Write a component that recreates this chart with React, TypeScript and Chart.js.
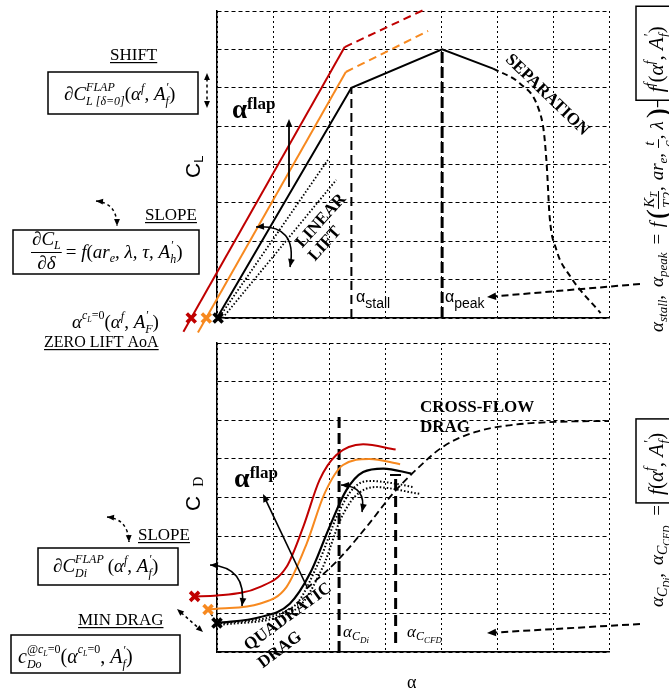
import React, { useEffect, useRef } from "react";
import { Chart, registerables } from "chart.js";
Chart.register(...registerables);

const W = 669;
const H = 692;

// ---- grid (α in grid units 0..7, coefficient in grid units 0..8)
const alphaRange = [0, 7];
const coefRange = [0, 8];

// ---- TOP PANEL: C_L vs α
const clRedLinear = [{ x: -0.6, y: -0.36 }, { x: 2.28, y: 7.06 }];
const clRedExtension = [{ x: 2.28, y: 7.06 }, { x: 3.68, y: 8.02 }];
const clOrangeLinear = [{ x: -0.34, y: -0.38 }, { x: 2.3, y: 6.41 }];
const clOrangeExtension = [{ x: 2.3, y: 6.41 }, { x: 3.77, y: 7.48 }];
const clBase = [{ x: 0, y: 0 }, { x: 2.4, y: 6.0 }, { x: 4.02, y: 7.0 }, { x: 4.93, y: 6.5 }];
const clSeparation = [
  { x: 4.93, y: 6.5 }, { x: 5.41, y: 6.11 }, { x: 5.73, y: 5.5 }, { x: 5.84, y: 4.81 },
  { x: 5.89, y: 3.94 }, { x: 5.94, y: 2.64 }, { x: 6.06, y: 1.78 }, { x: 6.31, y: 1.08 }, { x: 6.85, y: 0.13 },
];
const clDottedA = [{ x: 0.05, y: 0.04 }, { x: 1.98, y: 4.12 }];
const clDottedB = [{ x: 0.1, y: 0.0 }, { x: 2.13, y: 3.6 }];
const clStall = [{ x: 2.4, y: 0 }, { x: 2.4, y: 6.0 }];
const clPeak = [{ x: 4.02, y: 0 }, { x: 4.02, y: 7.0 }];
const clZeroRed = [{ x: -0.46, y: 0 }];
const clZeroOrange = [{ x: -0.19, y: 0 }];
const clZeroBlack = [{ x: 0.02, y: 0 }];

// ---- BOTTOM PANEL: C_D vs α
const cdRed = [
  { x: -0.4, y: 1.44 }, { x: 0, y: 1.46 }, { x: 0.76, y: 1.68 }, { x: 1.24, y: 2.2 }, { x: 1.54, y: 3.24 },
  { x: 1.83, y: 4.45 }, { x: 2.13, y: 5.1 }, { x: 2.61, y: 5.38 }, { x: 3.19, y: 5.24 },
];
const cdOrange = [
  { x: -0.16, y: 1.1 }, { x: 0, y: 1.12 }, { x: 0.76, y: 1.25 }, { x: 1.24, y: 1.68 }, { x: 1.6, y: 2.8 },
  { x: 1.92, y: 4.1 }, { x: 2.25, y: 4.84 }, { x: 2.72, y: 5.0 }, { x: 3.27, y: 4.86 },
];
const cdBlack = [
  { x: 0, y: 0.75 }, { x: 0.76, y: 0.9 }, { x: 1.3, y: 1.25 }, { x: 1.66, y: 2.03 }, { x: 2.01, y: 3.24 },
  { x: 2.31, y: 4.19 }, { x: 2.61, y: 4.66 }, { x: 2.97, y: 4.75 }, { x: 3.47, y: 4.62 },
];
const cdDottedA = [
  { x: 0, y: 0.73 }, { x: 1.36, y: 1.17 }, { x: 1.83, y: 2.37 }, { x: 2.16, y: 3.58 }, { x: 2.43, y: 4.23 },
  { x: 2.72, y: 4.43 }, { x: 3.18, y: 4.36 }, { x: 3.5, y: 4.27 },
];
const cdDottedB = [
  { x: 0.05, y: 0.7 }, { x: 1.4, y: 1.1 }, { x: 1.89, y: 2.2 }, { x: 2.2, y: 3.41 }, { x: 2.46, y: 4.02 },
  { x: 2.82, y: 4.27 }, { x: 3.63, y: 4.09 },
];
const cdCrossFlow = [
  { x: 1.6, y: 1.64 }, { x: 2.16, y: 2.38 }, { x: 2.67, y: 3.24 }, { x: 3.14, y: 4.1 }, { x: 3.55, y: 4.71 },
  { x: 4.03, y: 5.31 }, { x: 4.62, y: 5.7 }, { x: 5.22, y: 5.87 }, { x: 6.12, y: 5.96 }, { x: 7.0, y: 5.98 },
];
const cdAlphaCDi = [{ x: 2.18, y: 0 }, { x: 2.18, y: 6.13 }];
const cdAlphaCCFD = [{ x: 3.19, y: 0.23 }, { x: 3.19, y: 4.58 }];
const cdMinLink = [{ x: -0.4, y: 1.44 }, { x: -0.16, y: 1.1 }, { x: 0, y: 0.75 }];
const cdMinRed = [{ x: -0.4, y: 1.44 }];
const cdMinOrange = [{ x: -0.16, y: 1.1 }];
const cdMinBlack = [{ x: 0.0, y: 0.75 }];

const RED = "#c00000";
const ORANGE = "#f7891f";
const BLACK = "#000000";

const SERIF = '"Liberation Serif", "DejaVu Serif", serif';
const SANS = '"Liberation Sans", "DejaVu Sans", sans-serif';
const fR = (s: number) => `${s}px ${SERIF}`;
const fI = (s: number) => `italic ${s}px ${SERIF}`;
const fB = (s: number) => `bold ${s}px ${SERIF}`;
const fS = (s: number) => `${s}px ${SANS}`;

type P = any;

function rich(ctx: CanvasRenderingContext2D, x: number, y: number, ps: P[], draw = true): number {
  let cx = x;
  for (const p of ps) {
    if (p.gap !== undefined) {
      cx += p.gap;
    } else if (p.st) {
      let w = 0;
      for (const g of p.st) w = Math.max(w, rich(ctx, cx, y, g, draw));
      cx += w;
    } else if (p.frac) {
      const wn = rich(ctx, 0, 0, p.frac[0], false);
      const wd = rich(ctx, 0, 0, p.frac[1], false);
      const w = Math.max(wn, wd) + 2;
      if (draw) {
        rich(ctx, cx + (w - wn) / 2, y - p.n, p.frac[0]);
        rich(ctx, cx + (w - wd) / 2, y + p.d, p.frac[1]);
        ctx.fillRect(cx, y - p.l, w, 1);
      }
      cx += w;
    } else {
      ctx.font = p.f;
      if (draw) ctx.fillText(p.t, cx + (p.dx || 0), y + (p.dy || 0));
      cx += ctx.measureText(p.t).width + (p.dx || 0);
    }
  }
  return cx - x;
}

function underlined(ctx: CanvasRenderingContext2D, text: string, x: number, y: number, font: string) {
  ctx.font = font;
  ctx.fillText(text, x, y);
  const w = ctx.measureText(text).width;
  ctx.fillRect(x, y + 2, w, 1.2);
}

function head(ctx: CanvasRenderingContext2D, x: number, y: number, ang: number, size = 8) {
  ctx.save();
  ctx.translate(x, y);
  ctx.rotate(ang);
  ctx.setLineDash([]);
  ctx.beginPath();
  ctx.moveTo(0, 0);
  ctx.lineTo(-size, -size * 0.42);
  ctx.lineTo(-size, size * 0.42);
  ctx.closePath();
  ctx.fill();
  ctx.restore();
}

function arrow(ctx: CanvasRenderingContext2D, x0: number, y0: number, x1: number, y1: number, o: any = {}) {
  const size = o.size || 8;
  ctx.save();
  ctx.setLineDash(o.dash || []);
  ctx.lineWidth = o.width || 1.5;
  const a = Math.atan2(y1 - y0, x1 - x0);
  ctx.beginPath();
  ctx.moveTo(x0 + (o.both ? Math.cos(a) * size * 0.8 : 0), y0 + (o.both ? Math.sin(a) * size * 0.8 : 0));
  ctx.lineTo(x1 - Math.cos(a) * size * 0.8, y1 - Math.sin(a) * size * 0.8);
  ctx.stroke();
  head(ctx, x1, y1, a, size);
  if (o.both) head(ctx, x0, y0, a + Math.PI, size);
  ctx.restore();
}

function curveArrow(ctx: CanvasRenderingContext2D, x0: number, y0: number, cx: number, cy: number, x1: number, y1: number, o: any = {}) {
  const size = o.size || 8;
  ctx.save();
  ctx.setLineDash(o.dash || []);
  ctx.lineWidth = o.width || 1.5;
  ctx.beginPath();
  ctx.moveTo(x0, y0);
  ctx.quadraticCurveTo(cx, cy, x1, y1);
  ctx.stroke();
  head(ctx, x1, y1, Math.atan2(y1 - cy, x1 - cx), size);
  head(ctx, x0, y0, Math.atan2(y0 - cy, x0 - cx), size);
  ctx.restore();
}

function rotText(ctx: CanvasRenderingContext2D, text: string, cx: number, cy: number, deg: number, font: string) {
  ctx.save();
  ctx.translate(cx, cy);
  ctx.rotate((deg * Math.PI) / 180);
  ctx.font = font;
  ctx.textAlign = "center";
  ctx.textBaseline = "middle";
  ctx.fillText(text, 0, 0);
  ctx.restore();
}

function box(ctx: CanvasRenderingContext2D, x: number, y: number, w: number, h: number) {
  ctx.save();
  ctx.setLineDash([]);
  ctx.lineWidth = 1.5;
  ctx.strokeRect(x, y, w, h);
  ctx.restore();
}

// thick "X" markers placed through the chart's scales (they sit outside the plot area)
function crosses(chart: any, pts: { x: number; y: number }[], color: string) {
  const ctx: CanvasRenderingContext2D = chart.ctx;
  const xs = chart.scales.x;
  const ys = chart.scales.y;
  ctx.save();
  ctx.setLineDash([]);
  ctx.strokeStyle = color;
  ctx.lineWidth = 3.6;
  ctx.lineCap = "butt";
  for (const p of pts) {
    const px = xs.getPixelForValue(p.x);
    const py = ys.getPixelForValue(p.y);
    const r = 4.5;
    ctx.beginPath();
    ctx.moveTo(px - r, py - r);
    ctx.lineTo(px + r, py + r);
    ctx.moveTo(px + r, py - r);
    ctx.lineTo(px - r, py + r);
    ctx.stroke();
  }
  ctx.restore();
}

const Aprime = (f: number, s: number, sub: string) => [
  { t: "A", f: fI(f) },
  { st: [[{ t: "′", f: fR(s), dy: -f * 0.45, dx: 1 }], [{ t: sub, f: fI(s), dy: f * 0.27 }]] },
];

const topDecor = {
  id: "topDecor",
  afterDatasetsDraw(chart: any) {
    crosses(chart, clZeroRed, RED);
    crosses(chart, clZeroOrange, ORANGE);
    crosses(chart, clZeroBlack, BLACK);
  },
  afterDraw(chart: any) {
    const ctx: CanvasRenderingContext2D = chart.ctx;
    ctx.save();
    ctx.fillStyle = "#000";
    ctx.strokeStyle = "#000";
    ctx.textAlign = "left";
    ctx.textBaseline = "alphabetic";

    // SHIFT block
    underlined(ctx, "SHIFT", 110, 60, fR(17));
    box(ctx, 48, 72, 150, 42);
    rich(ctx, 64, 100, [
      { t: "∂", f: fR(19) },
      { t: "C", f: fI(19) },
      { st: [[{ t: "FLAP", f: fI(12), dy: -9 }], [{ t: "L [δ=0]", f: fI(12), dy: 5 }]] },
      { t: "(", f: fR(19) },
      { t: "α", f: fI(19) },
      { t: "f", f: fI(12), dy: -8 },
      { t: ", ", f: fR(19) },
      ...Aprime(19, 12, "f"),
      { t: ")", f: fR(19) },
    ]);
    arrow(ctx, 207, 73, 207, 108, { dash: [3, 3], both: true, size: 7, width: 1.5 });

    // SLOPE block
    curveArrow(ctx, 96, 201, 117, 203, 117, 226, { dash: [3, 3], size: 7 });
    underlined(ctx, "SLOPE", 145, 220, fR(17));
    box(ctx, 13, 230, 186, 44);
    rich(ctx, 31, 258, [
      {
        frac: [
          [{ t: "∂", f: fR(19) }, { t: "C", f: fI(19) }, { t: "L", f: fI(12), dy: 4 }],
          [{ t: "∂δ", f: fI(19) }],
        ],
        n: 13, d: 11, l: 6,
      },
      { gap: 4 },
      { t: "= ", f: fR(19) },
      { t: "f", f: fI(19) },
      { t: "(", f: fR(19) },
      { t: "ar", f: fI(19) },
      { t: "e", f: fI(12), dy: 4 },
      { t: ", λ, τ, ", f: fI(19) },
      ...Aprime(19, 12, "h"),
      { t: ")", f: fR(19) },
    ]);

    // zero lift
    rich(ctx, 72, 328, [
      { t: "α", f: fI(19) },
      { t: "c", f: fI(12), dy: -9 },
      { t: "L", f: fI(8), dy: -6 },
      { t: "=0", f: fR(12), dy: -9 },
      { t: "(", f: fR(19) },
      { t: "α", f: fI(19) },
      { t: "f", f: fI(12), dy: -8 },
      { t: ", ", f: fR(19) },
      ...Aprime(19, 12, "F"),
      { t: ")", f: fR(19) },
    ]);
    underlined(ctx, "ZERO LIFT AoA", 44, 347, fR(16));

    // C_L axis label
    ctx.save();
    ctx.translate(200, 178);
    ctx.rotate(-Math.PI / 2);
    rich(ctx, 0, 0, [{ t: "C", f: fS(21) }, { t: "L", f: fS(13), dy: 3 }]);
    ctx.restore();

    // α^flap
    rich(ctx, 232, 118, [{ t: "α", f: fB(27) }, { t: "flap", f: fB(17), dy: -9 }]);
    arrow(ctx, 289, 187, 289, 119, { size: 8, width: 1.8 });

    // LINEAR LIFT
    rotText(ctx, "LINEAR", 321, 221, -48, fB(17));
    rotText(ctx, "LIFT", 325, 244, -48, fB(17));
    curveArrow(ctx, 256, 227, 298, 224, 290, 267, { size: 8, width: 1.6 });

    // SEPARATION
    rotText(ctx, "SEPARATION", 547, 95, 44, fB(17));

    // α_stall / α_peak
    rich(ctx, 356, 302, [{ t: "α", f: fS(16) }, { t: "stall", f: fS(14), dy: 6 }]);
    rich(ctx, 445, 302, [{ t: "α", f: fS(16) }, { t: "peak", f: fS(14), dy: 6 }]);
    arrow(ctx, 640, 284, 487, 297, { dash: [7, 4], width: 2, size: 9 });

    // right-side rotated formula
    ctx.save();
    ctx.translate(663, 332);
    ctx.rotate(-Math.PI / 2);
    const wMain = rich(ctx, 0, 0, [
      { t: "α", f: fI(19) },
      { t: "stall", f: fI(13), dy: 4 },
      { t: ",", f: fR(19) },
      { gap: 8 },
      { t: "α", f: fI(19) },
      { t: "peak", f: fI(13), dy: 4 },
      { gap: 3 },
      { t: " = ", f: fR(19) },
      { gap: 2 },
      { t: "f", f: fI(19) },
      { gap: 3 },
      { t: "(", f: fR(30), dy: 4 },
      { frac: [[{ t: "K", f: fI(15) }, { t: "T", f: fI(10), dy: 3 }], [{ t: "T2", f: fI(15) }]], n: 9, d: 10, l: 5 },
      { t: ",", f: fR(19) },
      { gap: 6 },
      { t: "ar", f: fI(19) },
      { t: "e", f: fI(13), dy: 4 },
      { t: ",", f: fR(19) },
      { gap: 5 },
      { frac: [[{ t: "t", f: fI(15) }], [{ t: "c", f: fI(15) }]], n: 9, d: 10, l: 5 },
      { t: ",", f: fR(19) },
      { gap: 5 },
      { t: "λ", f: fI(19) },
      { gap: 3 },
      { t: ")", f: fR(30), dy: 4 },
    ]);
    ctx.fillRect(wMain + 1, -6, 7, 1.2);
    const bx = wMain + 8;
    box(ctx, bx, -27, 94, 40);
    rich(ctx, bx + 8, 0, [
      { t: "f", f: fI(21) },
      { t: "f", f: fI(14), dy: -9 },
      { t: "(", f: fR(21) },
      { t: "α", f: fI(21) },
      { t: "f", f: fI(14), dy: -9 },
      { t: ", ", f: fR(21) },
      ...Aprime(21, 14, "f"),
      { t: ")", f: fR(21) },
    ]);
    ctx.restore();

    ctx.restore();
  },
};

const bottomDecor = {
  id: "bottomDecor",
  afterDatasetsDraw(chart: any) {
    crosses(chart, cdMinRed, RED);
    crosses(chart, cdMinOrange, ORANGE);
    crosses(chart, cdMinBlack, BLACK);
  },
  afterDraw(chart: any) {
    const ctx: CanvasRenderingContext2D = chart.ctx;
    ctx.save();
    ctx.fillStyle = "#000";
    ctx.strokeStyle = "#000";
    ctx.textAlign = "left";
    ctx.textBaseline = "alphabetic";

    // SLOPE block
    curveArrow(ctx, 107, 517, 128, 519, 129, 542, { dash: [3, 3], size: 7 });
    underlined(ctx, "SLOPE", 138, 540, fR(17));
    box(ctx, 38, 548, 140, 37);
    rich(ctx, 53, 572, [
      { t: "∂", f: fR(19) },
      { t: "C", f: fI(19) },
      { st: [[{ t: "FLAP", f: fI(12), dy: -9 }], [{ t: "Di", f: fI(12), dy: 5 }]] },
      { gap: 4 },
      { t: "(", f: fR(19) },
      { t: "α", f: fI(19) },
      { t: "f", f: fI(12), dy: -8 },
      { t: ", ", f: fR(19) },
      ...Aprime(19, 12, "f"),
      { t: ")", f: fR(19) },
    ]);

    // MIN DRAG block
    underlined(ctx, "MIN DRAG", 78, 625, fR(17));
    arrow(ctx, 177, 609, 203, 632, { dash: [3, 3], both: true, size: 7, width: 1.5 });
    box(ctx, 11, 635, 169, 38);
    rich(ctx, 18, 663, [
      { t: "c", f: fI(20) },
      {
        st: [
          [
            { t: "@", f: fR(12), dy: -10 },
            { t: "c", f: fI(12), dy: -10 },
            { t: "L", f: fI(8), dy: -7 },
            { t: "=0", f: fR(12), dy: -10 },
          ],
          [{ t: "Do", f: fI(12), dy: 5 }],
        ],
      },
      { t: "(", f: fR(20) },
      { t: "α", f: fI(20) },
      { t: "c", f: fI(12), dy: -10 },
      { t: "L", f: fI(8), dy: -7 },
      { t: "=0", f: fR(12), dy: -10 },
      { t: ", ", f: fR(20) },
      ...Aprime(20, 12, "f"),
      { t: ")", f: fR(20) },
    ]);

    // C_D axis label
    ctx.save();
    ctx.translate(200, 511);
    ctx.rotate(-Math.PI / 2);
    rich(ctx, 0, 0, [{ t: "C", f: fS(21) }, { gap: 9 }, { t: "D", f: fR(14), dy: 3 }]);
    ctx.restore();

    // x-axis label
    ctx.font = fR(18);
    ctx.fillText("α", 407, 688);

    // in-plot
    rich(ctx, 234, 487, [{ t: "α", f: fB(28) }, { t: "flap", f: fB(17), dy: -9 }]);
    arrow(ctx, 307, 587, 263, 494, { size: 8, width: 1.6 });
    curveArrow(ctx, 210, 565, 247, 567, 242, 606, { size: 8, width: 1.6 });
    curveArrow(ctx, 341, 485, 367, 486, 362, 512, { size: 8, width: 1.6 });

    rotText(ctx, "QUADRATIC", 288, 617, -36, fB(17));
    rotText(ctx, "DRAG", 280, 650, -37, fB(17));

    rich(ctx, 420, 412, [{ t: "CROSS-FLOW", f: fB(17) }]);
    rich(ctx, 420, 432, [{ t: "DRAG", f: fB(17) }]);

    // CCFD top cap
    ctx.fillRect(390, 474, 11, 2);

    rich(ctx, 343, 637, [
      { t: "α", f: fI(17) },
      { t: "C", f: fI(12), dy: 3 },
      { t: "Di", f: fI(9), dy: 6 },
    ]);
    rich(ctx, 407, 637, [
      { t: "α", f: fI(17) },
      { t: "C", f: fI(12), dy: 3 },
      { t: "CFD", f: fI(9), dy: 6 },
    ]);
    arrow(ctx, 640, 624, 487, 633, { dash: [7, 4], width: 2, size: 9 });

    // right-side rotated formula
    ctx.save();
    ctx.translate(663, 607);
    ctx.rotate(-Math.PI / 2);
    const w = rich(ctx, 0, 0, [
      { t: "α", f: fI(19) },
      { t: "C", f: fI(14), dy: 4 },
      { t: "Di", f: fI(10), dy: 7 },
      { t: ",", f: fR(19) },
      { gap: 8 },
      { t: "α", f: fI(19) },
      { t: "C", f: fI(14), dy: 4 },
      { t: "CFD", f: fI(10), dy: 7 },
      { gap: 10 },
      { t: "=", f: fR(19) },
      { gap: 1 },
    ]);
    box(ctx, w + 1, -27, 84, 40);
    rich(ctx, w + 9, 0, [
      { t: "f", f: fI(21) },
      { t: "(", f: fR(21) },
      { t: "α", f: fI(21) },
      { t: "f", f: fI(14), dy: -9 },
      { t: ", ", f: fR(21) },
      ...Aprime(21, 14, "f"),
      { t: ")", f: fR(21) },
    ]);
    ctx.restore();

    ctx.restore();
  },
};

function line(data: any[], color: string, width: number, dash: number[] = [], extra: any = {}) {
  return {
    type: "line",
    data,
    borderColor: color,
    backgroundColor: color,
    borderWidth: width,
    borderDash: dash,
    pointRadius: 0,
    pointHoverRadius: 0,
    fill: false,
    clip: false,
    tension: 0,
    ...extra,
  };
}

function scales() {
  const common = (min: number, max: number, dash: number[], horiz: boolean) => ({
    type: "linear",
    min,
    max,
    ticks: { display: false, stepSize: 1 },
    grid: { color: "#000", lineWidth: 1, drawTicks: false },
    border: { display: true, color: "#000", width: 1.5, dash },
    afterFit: (s: any) => {
      if (horiz) s.height = 0;
      else s.width = 0;
    },
  });
  return {
    x: common(alphaRange[0], alphaRange[1], [2, 3], true),
    y: common(coefRange[0], coefRange[1], [4, 3], false),
  };
}

function config(datasets: any[], padding: any, plugin: any) {
  return {
    type: "line",
    data: { datasets },
    options: {
      responsive: false,
      animation: false,
      events: [],
      layout: { padding },
      plugins: { legend: { display: false }, tooltip: { enabled: false } },
      scales: scales(),
    },
    plugins: [plugin],
  } as any;
}

export default function App() {
  const topRef = useRef<HTMLCanvasElement>(null);
  const botRef = useRef<HTMLCanvasElement>(null);

  useEffect(() => {
    const mono = { cubicInterpolationMode: "monotone" };
    const top = new Chart(
      topRef.current!,
      config(
        [
          line(clBase, BLACK, 2),
          line(clSeparation, BLACK, 2, [6, 4], mono),
          line(clRedLinear, RED, 2),
          line(clRedExtension, RED, 2, [8, 5]),
          line(clOrangeLinear, ORANGE, 2),
          line(clOrangeExtension, ORANGE, 2, [8, 5]),
          line(clDottedA, BLACK, 1.8, [1.5, 2]),
          line(clDottedB, BLACK, 1.8, [1.5, 2]),
          line(clStall, BLACK, 2, [9, 5]),
          line(clPeak, BLACK, 3, [11, 4]),
        ],
        { left: 217, right: 60, top: 11, bottom: 374 },
        topDecor
      )
    );
    const bottom = new Chart(
      botRef.current!,
      config(
        [
          line(cdMinLink, BLACK, 1.5, [3, 2]),
          line(cdRed, RED, 2, [], mono),
          line(cdOrange, ORANGE, 2, [], mono),
          line(cdBlack, BLACK, 2.2, [], mono),
          line(cdDottedA, BLACK, 2, [1.5, 2], mono),
          line(cdDottedB, BLACK, 2, [1.5, 2], mono),
          line(cdCrossFlow, BLACK, 1.8, [7, 4], mono),
          line(cdAlphaCDi, BLACK, 3, [11, 5]),
          line(cdAlphaCCFD, BLACK, 3, [11, 6]),
        ],
        { left: 217, right: 60, top: 343, bottom: 40 },
        bottomDecor
      )
    );
    return () => {
      top.destroy();
      bottom.destroy();
    };
  }, []);

  return (
    <div style={{ position: "absolute", left: 0, top: 0, width: W, height: H, background: "#fff" }}>
      <canvas ref={topRef} width={W} height={H} style={{ position: "absolute", left: 0, top: 0 }} />
      <canvas ref={botRef} width={W} height={H} style={{ position: "absolute", left: 0, top: 0 }} />
    </div>
  );
}
